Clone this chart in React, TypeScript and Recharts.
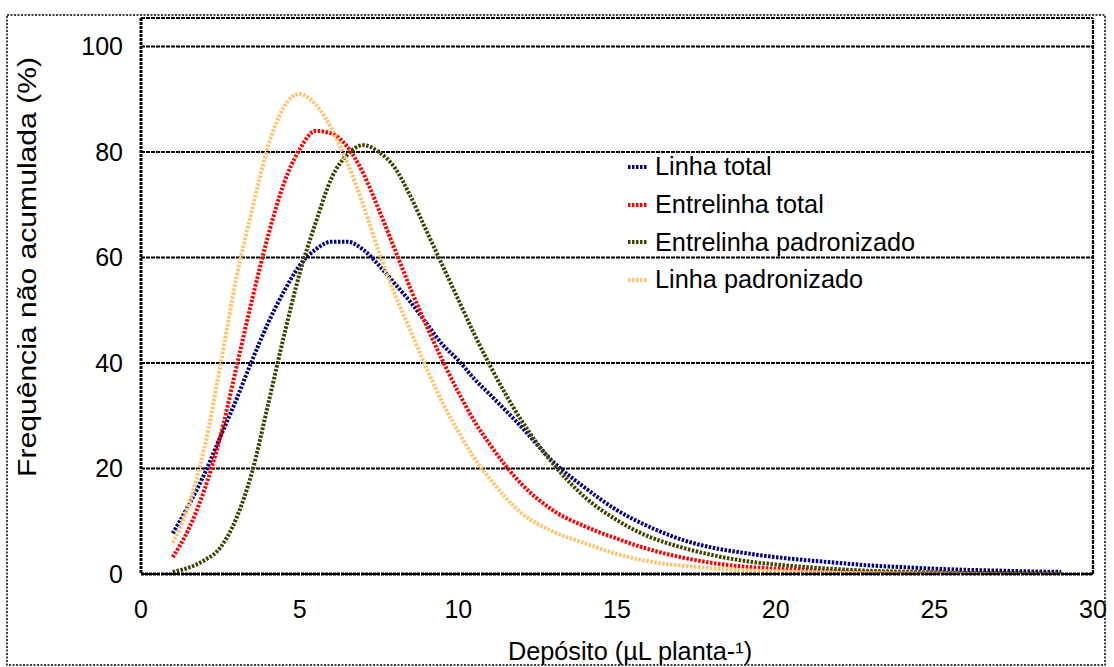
import React from 'react';
import { LineChart, Line, XAxis, YAxis, CartesianGrid, ReferenceLine, Label } from 'recharts';

const xValues = [1, 1.5, 2, 2.5, 3, 3.5, 4, 4.5, 5, 5.5, 6, 6.5, 7, 7.5, 8, 8.5, 9, 9.5, 10, 10.5, 11, 12, 13, 14, 15, 16, 17, 18, 19, 20, 21, 22, 23, 24, 25, 26, 27, 28, 29];

const linhaTotal = [7.7, 13, 19, 26, 33, 40.5, 47.5, 53.5, 58.5, 61.5, 63, 63, 61.5, 58.5, 55, 51.5, 47.5, 43.5, 40.5, 37, 34, 27.8, 21.2, 16.3, 12.1, 9, 6.6, 5, 4, 3.2, 2.6, 2.1, 1.6, 1.3, 1.0, 0.8, 0.65, 0.5, 0.4];
const entrelinhaTotal = [3.2, 8.5, 16, 26, 39, 52, 64, 74, 80.5, 84, 83.5, 81, 76, 69, 61.5, 54, 47, 40.5, 34.5, 29, 24.5, 17, 12, 9, 6.7, 4.7, 3.2, 2.1, 1.4, 1.0, 0.7, 0.5, 0.35, 0.25, 0.2, 0.15, 0.1, 0.05, 0.05];
const entrelinhaPadronizado = [0.4, 1.2, 2.6, 5, 10.5, 19.3, 32, 45, 57, 66.5, 75, 79.5, 81.3, 80, 77, 71.5, 65, 58.5, 52, 45.5, 39.5, 29, 20.8, 14.5, 10.2, 7.1, 5.1, 3.6, 2.5, 1.8, 1.3, 0.9, 0.6, 0.45, 0.3, 0.2, 0.15, 0.1, 0.05];
const linhaPadronizado = [5.9, 13, 24, 39.5, 56, 69, 81, 88.5, 91, 89, 84.5, 78, 70, 61, 53, 46, 39, 32.5, 27, 22, 18, 11.5, 8, 5.8, 3.8, 2.4, 1.6, 1.1, 0.7, 0.5, 0.3, 0.2, 0.15, 0.1, 0.05, 0.05, 0, 0, 0];

const xTicks = [0, 5, 10, 15, 20, 25, 30];
const yTicks = [0, 20, 40, 60, 80, 100];

const seriesNames = ['Linha total', 'Entrelinha total', 'Entrelinha padronizado', 'Linha padronizado'];
const seriesColors = ['#000080', '#FF0000', '#424200', '#FFC36E'];
const seriesKeys = ['lt', 'et', 'ep', 'lp'];

const data = xValues.map((x, i) => ({
  x,
  lt: linhaTotal[i],
  et: entrelinhaTotal[i],
  ep: entrelinhaPadronizado[i],
  lp: linhaPadronizado[i],
}));

const FONT = '"Liberation Sans", Arial, sans-serif';

const ChartLegend = () => (
  <div style={{ position: 'absolute', left: 626, top: 148, fontFamily: FONT, fontSize: 25.3, color: '#000' }}>
    {seriesNames.map((name, i) => (
      <div key={name} style={{ height: 37.7, display: 'flex', alignItems: 'center' }}>
        <svg width={29} height={10} style={{ display: 'block' }}>
          <line x1={2} y1={5} x2={22} y2={5} stroke={seriesColors[i]} strokeWidth={4} strokeDasharray="2.5 1.5" />
        </svg>
        <span style={{ whiteSpace: 'nowrap' }}>{name}</span>
      </div>
    ))}
  </div>
);

export default function App() {
  return (
    <div style={{ position: 'absolute', left: 0, top: 0, width: 1114, height: 667, background: '#fff' }}>
      <LineChart
        width={1114}
        height={667}
        data={data}
        margin={{ top: 18, right: 21, left: 0, bottom: 0 }}
        style={{ fontFamily: FONT }}
      >
        <CartesianGrid vertical={false} stroke="#000" strokeWidth={2.2} strokeDasharray="4 1" />
        <XAxis
          type="number"
          dataKey="x"
          domain={[0, 30]}
          ticks={xTicks}
          height={93}
          tickLine={false}
          tickSize={6}
          tickMargin={20}
          axisLine={{ stroke: '#000', strokeWidth: 3, strokeDasharray: '3 1' }}
          tick={{ fill: '#000', fontSize: 25, fontFamily: FONT }}
          interval={0}
        >
          <Label
            content={() => (
              <text x={630} y={660} textAnchor="middle" fontSize={25.3} fontFamily={FONT} fill="#000">
                Depósito (µL planta-¹)
              </text>
            )}
          />
        </XAxis>
        <YAxis
          type="number"
          domain={[0, 105.4]}
          ticks={yTicks}
          width={141}
          tickLine={false}
          tickSize={6}
          tickMargin={12}
          axisLine={{ stroke: '#000', strokeWidth: 3, strokeDasharray: '3 1' }}
          tick={{ fill: '#000', fontSize: 25, fontFamily: FONT }}
          interval={0}
          allowDataOverflow
        >
          <Label
            content={() => (
              <text
                x={27}
                y={267}
                textAnchor="middle"
                dominantBaseline="central"
                fontSize={26}
                fontFamily={FONT}
                fill="#000"
                textLength={420}
                lengthAdjust="spacingAndGlyphs"
                transform="rotate(-90 27 267)"
              >
                Frequência não acumulada (%)
              </text>
            )}
          />
        </YAxis>
        <ReferenceLine y={105.4} stroke="#000" strokeWidth={2.2} strokeDasharray="4 1" />
        <ReferenceLine x={30} stroke="#000" strokeWidth={2.2} strokeDasharray="4 1" />
        {seriesKeys.map((k, i) => (
          <Line
            key={k}
            type="monotone"
            dataKey={k}
            name={seriesNames[i]}
            stroke={seriesColors[i]}
            strokeWidth={4}
            strokeDasharray="2.5 1.5"
            dot={false}
            activeDot={false}
            isAnimationActive={false}
          />
        ))}
      </LineChart>
      <ChartLegend />
      <svg width={1114} height={667} style={{ position: 'absolute', left: 0, top: 0, pointerEvents: 'none' }}>
        <rect x={7} y={15} width={1098} height={650} fill="none" stroke="#000" strokeWidth={1.5} strokeDasharray="2 1.5" />
      </svg>
    </div>
  );
}
